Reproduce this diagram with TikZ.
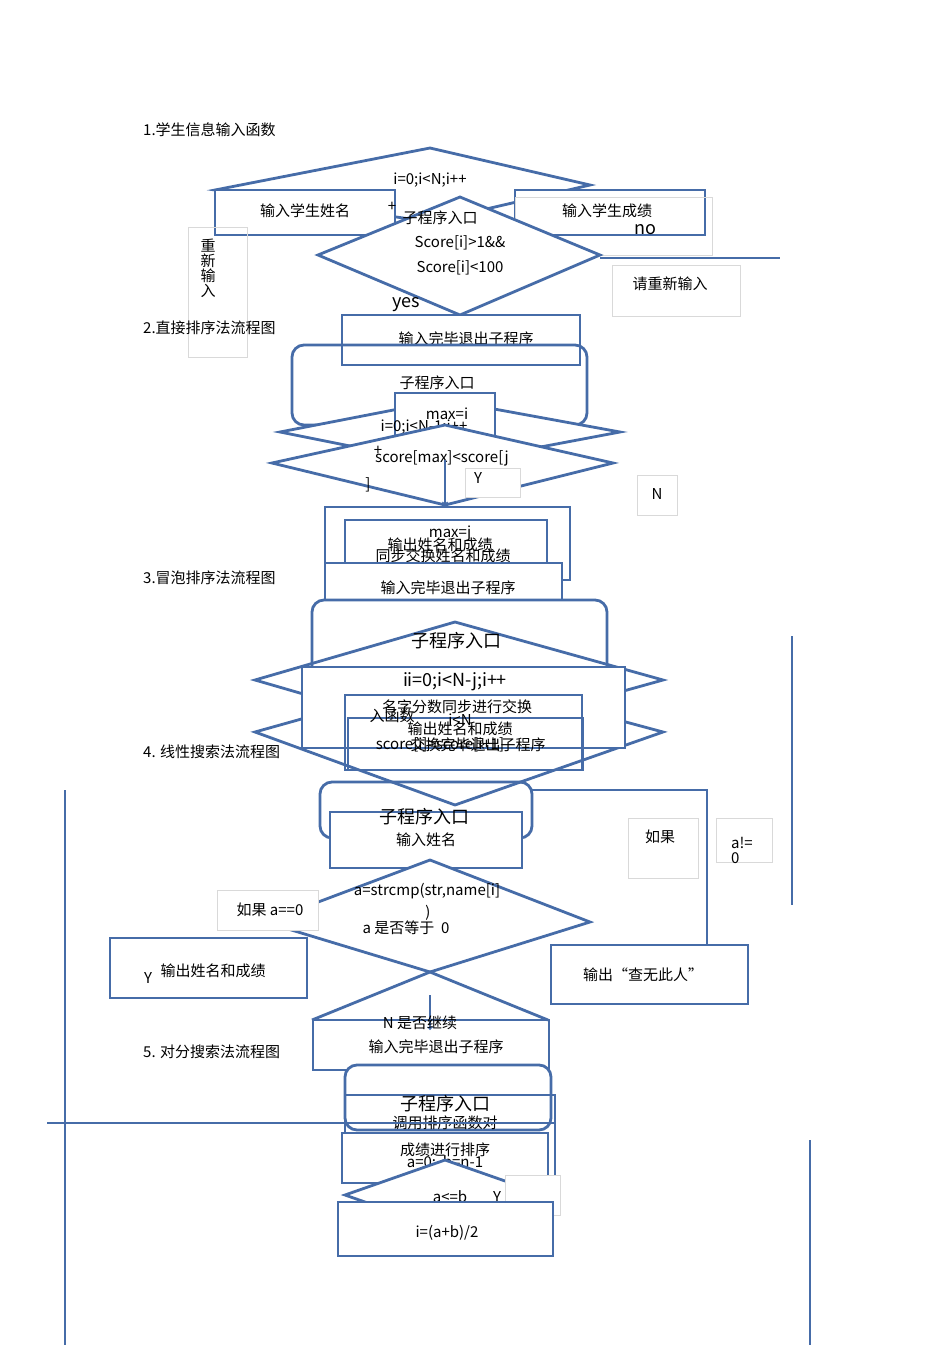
\documentclass[tikz,border=0pt]{standalone}
\usepackage{fontspec}
\setmainfont{Noto Sans CJK SC}
\definecolor{lb}{RGB}{70,108,168}
\begin{document}
\begin{tikzpicture}[x=1pt,y=-1pt,
  b/.style={draw=lb,line width=2.8pt},
  bt/.style={draw=lb,line width=1.2pt},
  g/.style={draw=black!15,line width=0.6pt},
  t/.style={font=\fontsize{15}{15}\selectfont,inner sep=0pt},
  tb/.style={font=\fontsize{18}{18}\selectfont,inner sep=0pt},
  tl/.style={t,anchor=west}]
\useasboundingbox[fill=white] (0,0) rectangle (950,1345);
% section 1
\node[tl] (s1) at (143,130) {1.学生信息输入函数};
\draw[b] (215,190) -- (430,148) -- (590,185) -- (430,222) -- cycle;
\draw[b,fill=white] (215,190) rectangle (395,235);
\draw[b,fill=white] (515,190) rectangle (705,235);
\draw[g] (515,197) rectangle (712,255);
\draw[b,fill=white] (318,255) -- (460,197) -- (600,255) -- (460,315) -- cycle;
\draw[bt] (600,258) -- (780,258);
\node[t] (l1) at (430,180) {i=0;i<N;i++};
\node[t] (n1) at (305,211) {输入学生姓名};
\node[t] (n2) at (607,211) {输入学生成绩};
\node[t] at (392,207) {+};
\node[t] at (440,218) {子程序入口};
\node[t] at (460,243) {Score[i]>1\&\&};
\node[t] at (460,268) {Score[i]<100};
\node[tb] at (645,230) {no};
\draw[g] (612,265) rectangle (740,316);
\node[t] at (670,284) {请重新输入};
\draw[g] (188,227) rectangle (247,357);
\node[t,align=center] at (208,268) {重\\新\\输\\入};
\node[tb] at (406,305) {yes};
\draw[b,fill=white] (342,315) rectangle (580,365);
\node[t] at (466,339) {输入完毕退出子程序};
% section 2
\node[tl] at (143,328) {2.直接排序法流程图};
\draw[b,rounded corners=12pt] (292,345) rectangle (587,425);
\node[t] at (437,383) {子程序入口};
\draw[b,fill=white] (280,432) -- (445,400) -- (620,432) -- (445,465) -- cycle;
\draw[b,fill=white] (395,393) rectangle (495,440);
\node[t] at (447,414) {max=i};
\node[t] at (424,427) {i=0;i<N-1;i++};
\draw[b,fill=white] (272,463) -- (445,425) -- (613,463) -- (445,505) -- cycle;
\node[t] at (378,451) {+};
\node[t] at (442,458) {score[max]<score[j};
\node[t] at (368,485) {]};
\draw[g,fill=white] (465,468) rectangle (520,497);
\node[t] at (478,478) {Y};
\draw[bt,->] (445,460) -- (445,505);
\draw[g] (637,475) rectangle (677,515);
\node[t] at (657,494) {N};
\draw[b] (325,507) rectangle (570,580);
\draw[b] (345,520) rectangle (547,570);
\node[t] at (450,533) {max=j};
\node[t] at (440,545) {输出姓名和成绩};
\node[t] at (443,556) {同步交换姓名和成绩};
\draw[b,fill=white] (325,563) rectangle (562,600);
\node[t] at (448,588) {输入完毕退出子程序};
% section 3
\node[tl] at (143,578) {3.冒泡排序法流程图};
\draw[b,rounded corners=12pt,fill=white] (312,600) rectangle (607,680);
\draw[b] (255,680) -- (455,622) -- (663,680) -- (455,738) -- cycle;
\node[tb] at (456,641) {子程序入口};
\draw[b] (255,732) -- (455,676) -- (663,732) -- (455,805) -- cycle;
\draw[b,fill=white] (302,667) rectangle (625,748);
\node[tb] at (455,682) {ii=0;i<N-j;i++};
\draw[b] (345,695) rectangle (582,770);
\draw[b] (348,718) rectangle (583,770);
\node[t] at (457,707) {名字分数同步进行交换};
\node[t] at (392,716) {入函数};
\node[t] at (460,720) {i<N};
\node[t] at (460,729) {输出姓名和成绩};
\node[t] at (440,745) {score[i]>score[i+1]};
\node[t] at (478,745) {交换完毕退出子程序};
% section 4
\node[tl] at (143,752) {4. 线性搜索法流程图};
\draw[b,rounded corners=12pt] (320,782) rectangle (532,838);
\draw[b,fill=white] (330,812) rectangle (522,868);
\node[tb] at (424,817) {子程序入口};
\node[t] at (426,840) {输入姓名};
\draw[b,fill=white] (265,922) -- (430,860) -- (590,922) -- (430,972) -- cycle;
\node[t] at (427,891) {a=strcmp(str,name[i]};
\node[t] at (428,913) {)};
\node[t] at (406,928) {a 是否等于\ \ 0};
\draw[g,fill=white] (217,890) rectangle (318,930);
\node[t] at (270,910) {如果 a==0};
\draw[b,fill=white] (110,938) rectangle (307,998);
\node[t] at (213,971) {输出姓名和成绩};
\node[t] at (148,978) {Y};
\draw[b,fill=white] (551,945) rectangle (748,1004);
\node[t] at (643,975) {输出“查无此人”};
\draw[g] (628,818) rectangle (698,878);
\node[t] at (660,837) {如果};
\draw[g] (716,818) rectangle (772,862);
\node[t,align=left] at (742,850) {a!=\\0};
\draw[bt] (530,790) -- (707,790) -- (707,945);
\draw[bt] (792,636) -- (792,905);
\draw[bt] (65,790) -- (65,1345);
\draw[bt] (810,1140) -- (810,1345);
\draw[b] (312,1020) -- (430,972) -- (548,1020);
\draw[bt,->] (430,995) -- (430,1030);
\draw[b] (313,1020) rectangle (549,1070);
\node[t] at (420,1023) {N 是否继续};
\node[t] at (436,1047) {输入完毕退出子程序};
% section 5
\node[tl] at (143,1052) {5. 对分搜索法流程图};
\draw[b,rounded corners=12pt,fill=white] (345,1065) rectangle (551,1130);
\draw[b] (345,1095) rectangle (555,1180);
\node[tb] at (445,1104) {子程序入口};
\node[t] at (445,1123) {调用排序函数对};
\draw[bt] (47,1123) -- (555,1123);
\draw[b,fill=white] (342,1133) rectangle (548,1183);
\node[t] at (445,1150) {成绩进行排序};
\node[t] at (445,1163) {a=0;\ \ b=n-1};
\draw[b,fill=white] (345,1195) -- (445,1160) -- (545,1195) -- (445,1230) -- cycle;
\draw[g,fill=white] (505,1175) rectangle (560,1215);
\node[t] at (450,1197) {a<=b};
\node[t] at (497,1197) {Y};
\draw[b,fill=white] (338,1202) rectangle (553,1256);
\node[t] at (447,1233) {i=(a+b)/2};
\end{tikzpicture}
\end{document}
